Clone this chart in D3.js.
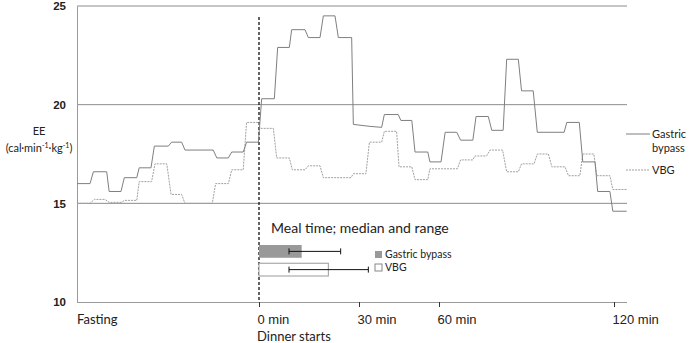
<!DOCTYPE html>
<meta charset="utf-8">
<style>
body { margin: 0; background: #fff; }
svg { font-family: Lato, "Open Sans", sans-serif; }
.grid line { stroke: #8c8c8c; stroke-width: 1; }
.axis path { stroke: #9a9a9a; }
.axis line { stroke: #333; }
</style>
<svg width="689" height="343"></svg>
<script src="https://d3js.org/d3.v7.min.js"></script>
<script>

// time in minutes (fasting shown as -60..0), EE in cal.min-1.kg-1
var gbTime = [-60,-55.7,-54.6,-50.2,-49.4,-45.5,-44.4,-40.3,-39.5,-35.6,-34.5,-29.9,-28.8,-25.5,-24.4,-15.1,-13.9,-10.1,-9.0,-5.2,-4.1,-0.2,
  0.8,4.6,5.6,9.1,9.8,13.8,14.8,18.3,19.3,22.8,23.8,27.8,28.3,34.1,38.5,39.5,44.7,45.7,49.8,51.0,55.8,56.6,60.7,
  62.1,66.1,67.4,71.6,72.7,76.9,78.1,82.0,83.2,87.2,88.3,92.3,93.7,102.9,103.8,108.1,109.3,113.5,114.4,118.6,119.6,124.4];
var gbEE = [16.0,16.0,16.6,16.6,15.6,15.6,16.3,16.3,16.8,16.8,17.9,17.9,18.1,18.1,17.7,17.7,17.3,17.3,17.6,17.6,18.1,18.1,
  20.3,20.3,22.9,22.9,23.8,23.8,23.4,23.4,24.5,24.5,23.4,23.4,19.0,18.9,18.85,19.5,19.5,19.2,19.2,17.6,17.6,17.1,17.1,
  18.6,18.6,18.2,18.2,19.4,19.4,18.7,18.7,22.3,22.3,20.7,20.7,18.6,18.6,19.1,19.1,17.1,17.1,15.6,15.6,14.6,14.6];

var vbgTime = [-60,-55.7,-54.3,-50.8,-49.4,-45.3,-44.4,-40.3,-39.5,-35.4,-34.3,-30.4,-29.0,-25.5,-24.4,-15.4,-14.3,-10.1,-9.0,-5.2,-4.1,-0.2,
  0.3,4.3,5.3,9.1,10.0,13.8,14.8,18.3,19.3,27.6,28.3,32.6,33.9,38.5,39.5,44.1,45.0,49.8,51.0,55.8,56.6,66.3,
  67.4,71.6,72.3,76.3,77.5,81.8,83.2,87.2,88.3,92.6,93.7,97.5,98.7,103.2,104.4,108.3,109.3,113.1,114.1,118.6,119.6,124.4];
var vbgEE = [15.0,15.0,15.2,15.2,15.05,15.05,15.15,15.15,16.1,16.1,17.0,17.0,15.45,15.45,15.0,15.0,16.0,16.0,16.7,16.7,19.1,19.1,
  18.8,18.8,17.3,17.3,16.7,16.7,16.9,16.9,16.3,16.3,16.5,16.5,18.1,18.1,18.65,18.65,16.85,16.85,16.2,16.2,16.75,16.75,
  17.2,17.2,17.4,17.4,17.7,17.7,16.6,16.6,17.0,17.0,17.5,17.5,16.85,16.85,16.4,16.4,17.5,17.5,16.4,16.4,15.7,15.7];

// meal time, minutes: median and range
var mealGroups = ["Gastric bypass", "VBG"];
var mealMedian = [12.8, 20.8];
var mealMin = [9, 9];
var mealMax = [24.5, 32.8];

var xTicks = [0, 30, 60, 120];
var yTicks = [10, 15, 20, 25];
var yGrid = [15, 20, 25];

var svg = d3.select("svg");

var x = d3.scaleLinear().domain([-60, 0, 30, 60, 120, 124.5]).range([77, 259, 359, 439, 614, 627]);
var y = d3.scaleLinear().domain([10, 25]).range([302, 6]);
var xMeal = d3.scaleLinear().domain([0, 30]).range([259, 359]);
var yMeal = d3.scaleBand().domain(mealGroups).range([245, 276]).paddingInner(0.3);

// gridlines
svg.append("g").attr("class", "grid")
  .selectAll("line").data(yGrid).enter().append("line")
  .attr("x1", x(-60)).attr("x2", x(124.5))
  .attr("y1", d => y(d)).attr("y2", d => y(d));

// y axis
var yAxis = svg.append("g").attr("class", "axis")
  .attr("transform", "translate(" + x(-60) + ",0)")
  .call(d3.axisLeft(y).tickValues(yTicks).tickSize(0).tickPadding(11));
yAxis.selectAll("text").attr("font-size", 11.5).attr("font-weight", "bold").attr("fill", "#222");

// x axis
var xAxis = svg.append("g").attr("class", "axis")
  .attr("transform", "translate(0," + y(10) + ")")
  .call(d3.axisBottom(x).tickValues(xTicks).tickSize(5).tickSizeOuter(0).tickFormat(d => d + " min"));
xAxis.select(".domain").attr("d", "M" + x(-60) + ",0.5H" + x(124.5));
xAxis.selectAll("text").attr("text-anchor", "start").attr("x", -2).attr("dy", "1.05em")
  .attr("font-size", 13).attr("fill", "#222");

svg.append("text").attr("x", x(-60)).attr("y", 324).attr("font-size", 13).attr("fill", "#222").text("Fasting");
svg.append("text").attr("x", x(0) - 2).attr("y", 341).attr("font-size", 13).attr("fill", "#222").text("Dinner starts");

// y title
svg.append("text").attr("x", 39).attr("y", 135).attr("text-anchor", "middle")
  .attr("font-size", 11).attr("fill", "#222").text("EE");
var unit = svg.append("text").attr("x", 39).attr("y", 152).attr("text-anchor", "middle")
  .attr("font-size", 11).attr("fill", "#222");
unit.append("tspan").text("(cal·min");
unit.append("tspan").attr("dy", -4).attr("font-size", 7).text("-1");
unit.append("tspan").attr("dy", 4).text("·kg");
unit.append("tspan").attr("dy", -4).attr("font-size", 7).text("-1");
unit.append("tspan").attr("dy", 4).text(")");

// dinner start line
svg.append("line")
  .attr("x1", x(0)).attr("x2", x(0)).attr("y1", 17).attr("y2", y(10))
  .attr("stroke", "#111").attr("stroke-width", 1.3).attr("stroke-dasharray", "3,2");

// EE curves
var line = d3.line().x(d => x(d[0])).y(d => y(d[1]));
svg.append("path").datum(d3.zip(vbgTime, vbgEE))
  .attr("d", line).attr("fill", "none").attr("stroke", "#a0a0a0").attr("stroke-width", 1)
  .attr("stroke-dasharray", "2,1");
svg.append("path").datum(d3.zip(gbTime, gbEE))
  .attr("d", line).attr("fill", "none").attr("stroke", "#7f7f7f").attr("stroke-width", 1);

// right legend
svg.append("line").attr("x1", 626).attr("x2", 650).attr("y1", 134).attr("y2", 134)
  .attr("stroke", "#7f7f7f");
svg.append("text").attr("x", 652).attr("y", 138).attr("font-size", 11).attr("fill", "#222").text("Gastric");
svg.append("text").attr("x", 652).attr("y", 152).attr("font-size", 11).attr("fill", "#222").text("bypass");
svg.append("line").attr("x1", 626).attr("x2", 650).attr("y1", 170).attr("y2", 170)
  .attr("stroke", "#a0a0a0").attr("stroke-dasharray", "2,1");
svg.append("text").attr("x", 652).attr("y", 174).attr("font-size", 11).attr("fill", "#222").text("VBG");

// meal time panel
svg.append("text").attr("x", 271).attr("y", 233).attr("font-size", 14).attr("fill", "#222")
  .text("Meal time; median and range");

var fills = ["#999999", "#ffffff"];
svg.append("g").selectAll("rect").data(mealGroups).enter().append("rect")
  .attr("x", xMeal(0)).attr("y", d => yMeal(d))
  .attr("width", (d, i) => xMeal(mealMedian[i]) - xMeal(0))
  .attr("height", yMeal.bandwidth())
  .attr("fill", (d, i) => fills[i]).attr("stroke", (d, i) => i ? "#999" : "none");

var err = svg.append("g").attr("stroke", "#111").attr("stroke-width", 1);
mealGroups.forEach(function(g, i) {
  var cy = yMeal(g) + yMeal.bandwidth() / 2;
  err.append("line").attr("x1", xMeal(mealMin[i])).attr("x2", xMeal(mealMax[i])).attr("y1", cy).attr("y2", cy);
  err.append("line").attr("x1", xMeal(mealMin[i])).attr("x2", xMeal(mealMin[i])).attr("y1", cy - 3).attr("y2", cy + 3);
  err.append("line").attr("x1", xMeal(mealMax[i])).attr("x2", xMeal(mealMax[i])).attr("y1", cy - 3).attr("y2", cy + 3);
});

var leg = svg.append("g").selectAll("g").data(mealGroups).enter().append("g")
  .attr("transform", (d, i) => "translate(375," + (251 + i * 13) + ")");
leg.append("rect").attr("width", 7).attr("height", 7)
  .attr("fill", (d, i) => fills[i]).attr("stroke", (d, i) => i ? "#888" : "none");
leg.append("text").attr("x", 10).attr("y", 7).attr("font-size", 10.5).attr("fill", "#222").text(d => d);

</script>
